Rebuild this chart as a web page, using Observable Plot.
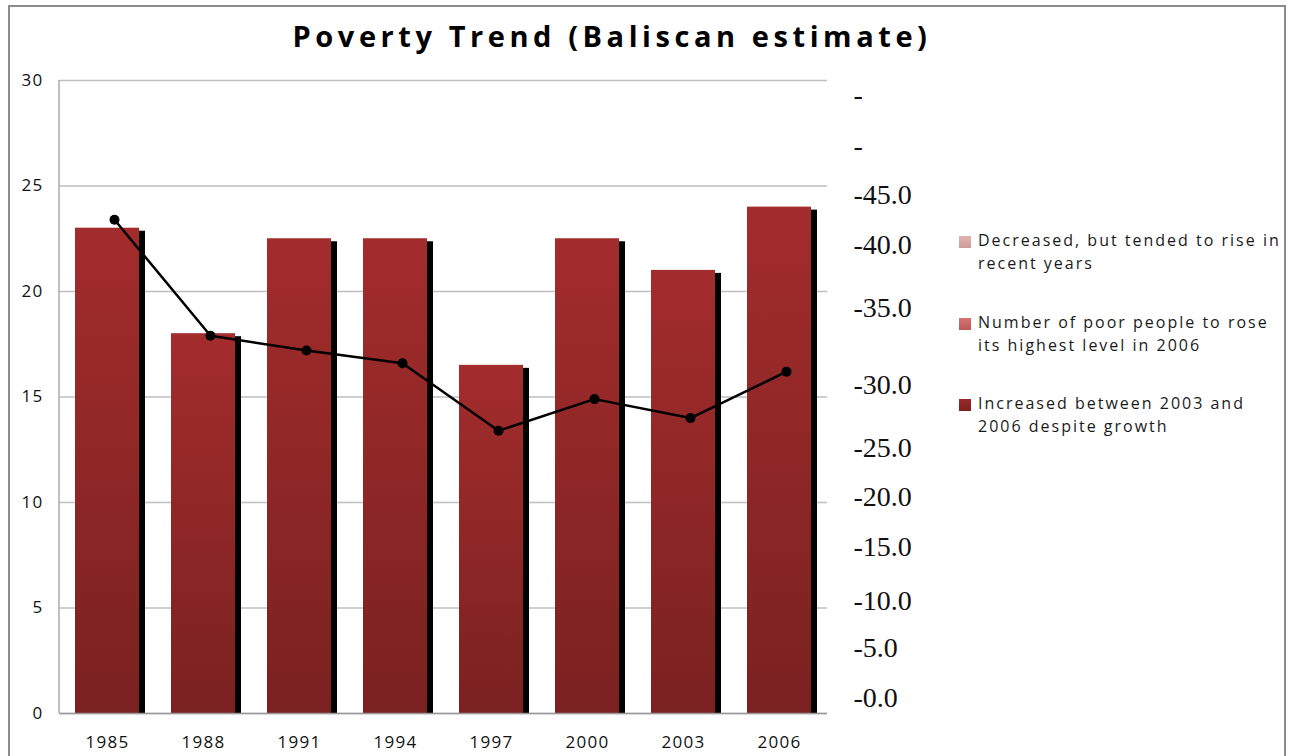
<!DOCTYPE html>
<html>
<head>
<meta charset="utf-8">
<script src="https://cdn.jsdelivr.net/npm/d3@7"></script>
<script src="https://cdn.jsdelivr.net/npm/@observablehq/plot@0.6"></script>
<style>
  html, body { margin: 0; padding: 0; background: #fff; }
  #wrap { position: relative; width: 1298px; height: 756px; overflow: hidden; font-family: "Open Sans", sans-serif; }
  #border { position: absolute; left: 8px; top: 5px; width: 1278px; height: 800px; border: 2px solid #8c8c8c; box-sizing: border-box; }
  #chart { position: absolute; left: 0; top: 0; }
  #title { position: absolute; top: 16px; left: 0; width: 1224px; text-align: center; font-size: 29px; font-weight: 700; color: #000; white-space: nowrap; }
  #legend { position: absolute; left: 959px; top: 0; color: #1a1a1a; font-size: 16px; }
  .item { position: absolute; left: 0; white-space: nowrap; }
  .sw { position: absolute; left: 0; width: 12px; height: 12px; }
  .tx { position: absolute; left: 19px; line-height: 23px; letter-spacing: 2px; }
</style>
</head>
<body>
<div id="wrap">
  <div id="border"></div>
  <div id="chart"></div>
  <div id="title"><span id="titleText"></span></div>
  <div id="legend"></div>
</div>
<script>
// ---- data ----
const titleText = "Poverty Trend (Baliscan estimate)";
const years = ["1985", "1988", "1991", "1994", "1997", "2000", "2003", "2006"];
const barValues = [23, 18, 22.5, 22.5, 16.5, 22.5, 21, 24];
const lineValues = [23.4, 17.9, 17.2, 16.6, 13.4, 14.9, 14.0, 16.2];
const leftTicks = [0, 5, 10, 15, 20, 25, 30];
const rightTickValues = [29.3, 26.9, 24.55, 22.2, 19.2, 15.55, 12.6, 10.25, 7.9, 5.35, 3.1, 0.75];
const rightTickLabels = ["-", "-", "-45.0", "-40.0", "-35.0", "-30.0", "-25.0", "-20.0", "-15.0", "-10.0", "-5.0", "-0.0"];
const legendLabels = [
  ["Decreased, but tended to rise in", "recent years"],
  ["Number of poor people to rose", "its highest level in 2006"],
  ["Increased between 2003 and", "2006 despite growth"]
];
const legendColors = [
  ["#e2b3b3", "#cf9a9a"],
  ["#d37575", "#bf5757"],
  ["#9a2a2a", "#7e1f1f"]
];

const data = years.map((y, i) => ({year: y, value: barValues[i], line: lineValues[i]}));
const rightMap = new Map(rightTickValues.map((v, i) => [v, rightTickLabels[i]]));

const chart = Plot.plot({
  width: 1298,
  height: 756,
  marginTop: 80,
  marginLeft: 59,
  marginRight: 471,
  marginBottom: 43,
  style: {fontFamily: "Open Sans, sans-serif", background: "transparent", color: "#111"},
  x: {domain: years, paddingInner: 1/3, paddingOuter: 1/6, label: null},
  y: {domain: [0, 30], label: null},
  marks: [
    Plot.gridY(leftTicks, {stroke: "#bfbfbf", strokeOpacity: 1, strokeWidth: 1.5}),
    Plot.barY(data, {x: "year", y: "value", fill: "#000", dx: 6, dy: 3, insetBottom: 3}),
    Plot.barY(data, {x: "year", y: "value", fill: "url(#barGrad)"}),
    Plot.ruleY([0], {stroke: "#999", strokeWidth: 1.5}),
    Plot.line(data, {x: "year", y: "line", stroke: "#000", strokeWidth: 2.5, dx: 7}),
    Plot.dot(data, {x: "year", y: "line", r: 5, fill: "#000", stroke: "none", dx: 7}),
    Plot.axisY(leftTicks, {tickSize: 0, tickPadding: 16, fontSize: 17, label: null, fill: "#111"}),
    Plot.axisY(rightTickValues, {anchor: "right", tickSize: 0, tickPadding: 26, label: null,
      tickFormat: d => rightMap.get(d), fontSize: 28, fontFamily: "Liberation Serif, serif", fill: "#111"}),
    Plot.axisX({tickSize: 0, tickPadding: 22, fontSize: 17, label: null, fill: "#111"})
  ]
});

const svg = d3.select(chart);
const defs = svg.insert("defs", ":first-child");
const g = defs.append("linearGradient").attr("id", "barGrad").attr("x1", 0).attr("y1", 0).attr("x2", 0).attr("y2", 1);
g.append("stop").attr("offset", "0%").attr("stop-color", "#a32c2c");
g.append("stop").attr("offset", "100%").attr("stop-color", "#7a2121");
// wider letter spacing on the sans-serif tick labels
svg.selectAll('g[aria-label="y-axis tick label"], g[aria-label="x-axis tick label"]')
  .filter(function() { return !(this.getAttribute("font-family") || "").includes("Serif"); })
  .attr("letter-spacing", "1.3px");
// left axis line
const ys = chart.scale("y");
svg.append("line")
  .attr("x1", 59).attr("x2", 59)
  .attr("y1", ys.apply(30)).attr("y2", ys.apply(0))
  .attr("stroke", "#aaa").attr("stroke-width", 1.5);

document.getElementById("chart").appendChild(chart);

// title
const tt = document.getElementById("titleText");
tt.textContent = titleText;
const w0 = tt.getBoundingClientRect().width;
tt.style.letterSpacing = ((639 - w0) / titleText.length) + "px";

// legend
const legend = document.getElementById("legend");
const tops = [229, 311, 392];
legendLabels.forEach((lines, i) => {
  const item = document.createElement("div");
  item.className = "item";
  item.style.top = tops[i] + "px";
  const sw = document.createElement("div");
  sw.className = "sw";
  sw.style.top = "7px";
  sw.style.background = `linear-gradient(${legendColors[i][0]}, ${legendColors[i][1]})`;
  const tx = document.createElement("div");
  tx.className = "tx";
  tx.innerHTML = lines.join("<br>");
  item.appendChild(sw);
  item.appendChild(tx);
  legend.appendChild(item);
});
</script>
</body>
</html>
